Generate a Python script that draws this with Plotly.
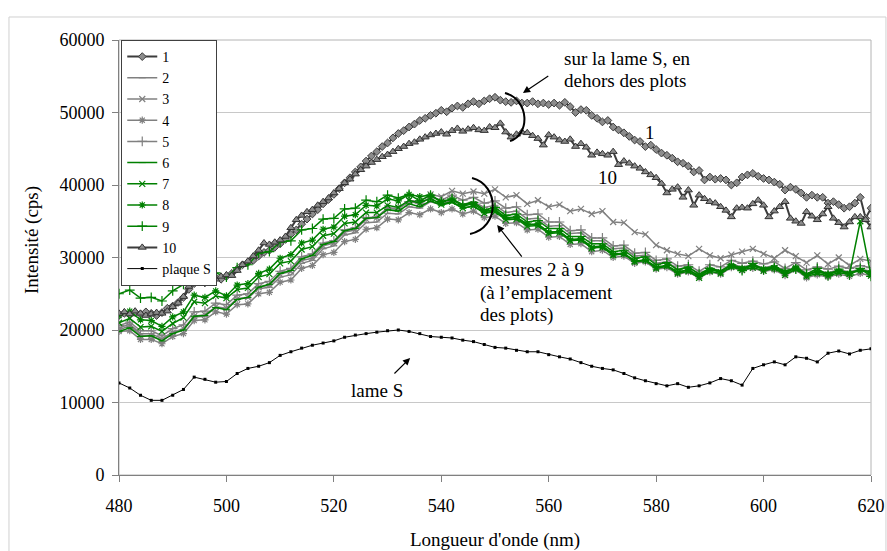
import plotly.graph_objects as go

# ---------------- data ----------------
# wavelengths (nm)
x_fine = list(range(480, 621, 1))   # 1 nm step, series 1 and 10
x_coarse = list(range(480, 621, 2)) # 2 nm step, series 2-9 and plaque S

s1 = [22000, 22300, 22100, 22400, 22200, 22500, 22300, 22000, 22400, 23000,
      23300, 23800, 24500, 25600, 26400, 26800, 26500, 26900, 27200, 27000,
      27400, 27800, 28400, 29000, 29300, 29600, 30200, 30700, 31000, 31400,
      31900, 32500, 33200, 33800, 34600, 35300, 36000, 36600, 37400, 38000,
      38700, 39500, 40300, 41000, 41800, 42500, 43300, 44000, 44600, 45300,
      45800, 46500, 47100, 47500, 48000, 48400, 48900, 49200, 49600, 49900,
      50300, 50100, 50600, 50900, 50700, 51200, 51500, 51200, 51600, 51900,
      52100, 51700, 51500, 51400, 51600, 51300, 51300, 51500, 51200, 51300,
      51100, 51300, 51000, 51400, 50800, 50000, 50400, 50300, 49600, 49200,
      48700, 48900, 48000, 47600, 47200, 46700, 46200, 46000, 45300, 45500,
      44900, 44400, 44100, 43700, 43200, 43000, 42600, 41800, 42000, 40700,
      41100, 40800, 40900, 40700, 40000, 40300, 41100, 41400, 41600, 41200,
      40900, 40700, 40400, 40100, 39300, 39700, 39400, 38900, 38300, 38600,
      38300, 38300, 37500, 37700, 37300, 36800, 37000, 37500, 38300, 35400,
      36800]

s10 = [22300, 22500, 22200, 22600, 22300, 22000, 22200, 22400, 22300, 22600,
       23200, 23700, 24600, 26000, 26900, 27100, 26800, 27200, 27000, 27400,
       27600, 27500, 28200, 29000, 29500, 30200, 31000, 32000, 31800, 32100,
       32400, 32900, 34100, 35200, 35800, 36300, 36600, 37200, 37700, 38200,
       38900, 39500, 40300, 40800, 41500, 42100, 42600, 43100, 43500, 43900,
       44200, 44600, 45000, 45300, 45700, 45900, 46300, 46600, 46900, 47100,
       47300, 47000, 47500, 47800, 47400, 47700, 47900, 47600, 47500, 48000,
       47900, 48500, 47300, 46600, 47000, 47300, 47200, 46800, 46400, 45500,
       46900, 46600, 46200, 46000, 46300, 45300, 45700, 45200, 44100, 44500,
       44300, 44100, 44600, 42800, 43300, 43000, 42600, 42300, 41800, 41400,
       41000, 40200, 38900, 39400, 39700, 38300, 39300, 37200, 38600, 38100,
       37700, 37500, 37000, 36500, 35600, 36800, 36900, 36800, 37400, 37900,
       37200, 35600, 36400, 37000, 37700, 35400, 35000, 34700, 36300, 35700,
       35200, 36000, 37000, 35400, 34800, 34200, 34900, 35600, 35600, 35200,
       34200]

s2 = [20300, 20800, 19500, 19500, 18800, 19700, 20100, 21800, 21900, 23100,
      22900, 24300, 24400, 25700, 25900, 27300, 27600, 29200, 29600, 31200,
      31600, 33100, 33400, 34800, 34900, 36100, 36000, 37000, 36800, 37700,
      37300, 38000, 37300, 37700, 36900, 37200, 36200, 36400, 35300, 35400,
      34300, 34400, 33300, 33400, 32300, 32300, 31200, 31300, 30200, 30300,
      29200, 29400, 28400, 28600, 27700, 28500, 28200, 29100, 28700, 29000,
      28600, 28900, 28000, 28800, 27800, 28200, 27900, 28300, 28000, 28400,
      28100]

s3 = [20000, 20600, 19200, 19200, 18600, 19600, 20200, 21900, 22100, 23200,
      23000, 24300, 24500, 25900, 26200, 27700, 28100, 29600, 29900, 31600,
      32000, 33500, 33800, 35300, 35500, 36800, 36800, 37900, 37700, 38700,
      38400, 39200, 38800, 39100, 38800, 39400, 38300, 38600, 37400, 37900,
      37000, 37300, 36400, 36700, 36000, 36400, 34900, 34800, 33500, 33200,
      31700, 31000, 30500, 30200, 31200, 30300, 29900, 30400, 30800, 31200,
      30500, 29900, 31000, 30200, 29300, 30300, 29100, 30000, 28900, 29800,
      29500]

s4 = [19800, 19900, 18700, 18700, 18100, 19100, 19500, 21300, 21400, 22500,
      22200, 23500, 23600, 25000, 25200, 26600, 26900, 28500, 28900, 30400,
      30700, 32200, 32500, 33900, 34100, 35300, 35200, 36200, 35900, 36700,
      36200, 36700, 36000, 36400, 35500, 35700, 34700, 34800, 33800, 33900,
      32800, 32900, 31800, 31900, 30800, 31000, 30000, 30200, 29200, 29400,
      28400, 28600, 27700, 28000, 27200, 28000, 27700, 28600, 28200, 28500,
      28100, 28300, 27500, 28300, 27200, 27600, 27300, 27700, 27400, 27800,
      27500]

s5 = [20600, 21100, 19900, 19900, 19200, 20200, 20700, 22500, 22600, 23700,
      23500, 24800, 25000, 26400, 26700, 28100, 28500, 30100, 30500, 32000,
      32300, 33800, 34100, 35500, 35600, 36800, 36700, 37700, 37500, 38300,
      37900, 38600, 37900, 38300, 37500, 37800, 36800, 37000, 35900, 36000,
      34900, 34900, 33700, 33800, 32700, 32700, 31600, 31700, 30600, 30700,
      29600, 29800, 28800, 29000, 28100, 29000, 28700, 29600, 29200, 29500,
      29100, 29400, 28500, 29300, 28300, 28700, 28400, 28800, 28500, 28900,
      28600]

s6 = [19800, 20300, 19100, 19200, 18500, 19500, 20000, 21900, 22000, 23100,
      22800, 24200, 24500, 25900, 26300, 27800, 28200, 29800, 30300, 31800,
      32200, 33700, 34000, 35400, 35500, 36600, 36400, 37400, 37000, 37800,
      37200, 37600, 36800, 37100, 36200, 36400, 35400, 35500, 34500, 34600,
      33500, 33600, 32500, 32600, 31500, 31600, 30500, 30600, 29500, 29700,
      28700, 28900, 28000, 28300, 27500, 28400, 28100, 29000, 28600, 28900,
      28500, 28800, 27900, 28700, 27700, 28100, 27800, 28200, 27900, 28300,
      28000]

s7 = [21000, 21600, 20400, 20500, 19800, 20900, 21700, 23900, 23700, 24700,
      24400, 25600, 25800, 27300, 27700, 29200, 29500, 31100, 31500, 33000,
      33300, 34700, 34900, 36200, 36200, 37200, 36900, 37900, 37500, 38200,
      37300, 37700, 36800, 37100, 36100, 36300, 35200, 35300, 34300, 34400,
      33300, 33400, 32300, 32400, 31300, 31400, 30300, 30500, 29400, 29600,
      28500, 28800, 27800, 28100, 27200, 28100, 27800, 28700, 28300, 28600,
      28200, 28500, 27600, 28400, 27400, 27800, 27500, 27900, 27700, 35000,
      27500]

s8 = [22000, 22600, 21400, 21300, 20500, 21800, 22500, 24800, 24500, 25400,
      24700, 26200, 26400, 27800, 28400, 29900, 30400, 32000, 32400, 33900,
      34200, 35700, 35900, 37200, 37100, 38100, 37800, 38700, 38400, 38600,
      37700, 38000, 37100, 37400, 36400, 36600, 35500, 35600, 34600, 34600,
      33500, 33600, 32400, 32500, 31300, 31500, 30400, 30500, 29500, 29600,
      28600, 28900, 27900, 28300, 27400, 28300, 28000, 28900, 28500, 28800,
      28400, 28600, 27800, 28600, 27600, 28000, 27700, 28100, 27800, 28200,
      27900]

s9 = [25000, 25500, 24400, 24500, 24000, 25400, 26300, 28400, 27600, 27900,
      27300, 28600, 29000, 30600, 30800, 32100, 32300, 33800, 34000, 35300,
      35400, 36700, 36800, 37900, 37700, 38600, 38200, 38700, 37800, 38600,
      37700, 38100, 37300, 37600, 36600, 36900, 35800, 36000, 34900, 35100,
      34000, 34000, 32900, 32900, 31900, 31900, 30800, 31000, 29900, 30100,
      29000, 29300, 28300, 28700, 27700, 28500, 28100, 29000, 28200, 29200,
      28300, 28600, 28200, 28400, 27700, 28500, 27500, 28400, 27600, 28500,
      27400]

plaque_s = [12700, 12000, 11000, 10300, 10300, 11000, 11800, 13500, 13200, 12800,
            12900, 14000, 14700, 15000, 15500, 16500, 17000, 17500, 17900, 18200,
            18500, 19000, 19300, 19500, 19700, 19900, 20000, 19800, 19500, 19100,
            19000, 18900, 18600, 18400, 18000, 17600, 17500, 17200, 17000, 17000,
            16600, 16300, 16000, 15500, 15000, 14700, 14500, 14000, 13400, 13000,
            12600, 12300, 12600, 12100, 12300, 12700, 13300, 13000, 12400, 14700,
            15200, 15600, 15200, 16300, 16100, 15600, 16800, 17100, 16700, 17200,
            17400]

names = ["1", "2", "3", "4", "5", "6", "7", "8", "9", "10", "plaque S"]
x_ticks = [480, 500, 520, 540, 560, 580, 600, 620]
y_ticks = [0, 10000, 20000, 30000, 40000, 50000, 60000]

for arr, ref in [(s1, x_fine), (s10, x_fine)]:
    assert len(arr) == len(ref), len(arr)
for arr in [s2, s3, s4, s5, s6, s7, s8, s9, plaque_s]:
    assert len(arr) == len(x_coarse), len(arr)

# ---------------- styles ----------------
FONT = "Liberation Serif"
GRAY = "#808080"
GREEN = "#008000"
DARK = "#3c3c3c"

fig = go.Figure()

def add(x, y, name, color, width, symbol, msize, mfill=None, mline=None, mlw=1):
    marker = dict(symbol=symbol, size=msize,
                  color=mfill if mfill else color,
                  line=dict(color=mline if mline else color, width=mlw))
    fig.add_trace(go.Scatter(x=x, y=y, name=name, mode="lines+markers",
                             line=dict(color=color, width=width),
                             marker=marker))

add(x_fine, s1, names[0], DARK, 2, "diamond", 6, "#8c8c8c", DARK, 1)
add(x_coarse, s2, names[1], GRAY, 1.5, "line-ew", 5, None, GRAY, 1)
add(x_coarse, s3, names[2], GRAY, 1.5, "x-thin", 6, None, GRAY, 1.2)
add(x_coarse, s4, names[3], GRAY, 1.5, "asterisk", 6, None, GRAY, 1.2)
add(x_coarse, s5, names[4], GRAY, 1.5, "cross-thin", 7, None, GRAY, 1.2)
add(x_coarse, s6, names[5], GREEN, 1.5, "line-ew", 5, None, GREEN, 1)
add(x_coarse, s7, names[6], GREEN, 1.5, "x-thin", 6, None, GREEN, 1.2)
add(x_coarse, s8, names[7], GREEN, 1.5, "asterisk", 6, None, GREEN, 1.2)
add(x_coarse, s9, names[8], GREEN, 1.5, "cross-thin", 7, None, GREEN, 1.2)
add(x_fine, s10, names[9], DARK, 2, "triangle-up", 7, "#8c8c8c", "#333333", 1)
add(x_coarse, plaque_s, names[10], "#000000", 1, "square", 3, "#000000", "#000000", 0)

txt = dict(family=FONT, size=19, color="black")
annotations = [
    dict(x=562.5, y=57500, text="sur la lame S, en", xanchor="left", yanchor="middle",
         showarrow=False, font=txt),
    dict(x=562.5, y=54350, text="dehors des plots", xanchor="left", yanchor="middle",
         showarrow=False, font=txt),
    dict(x=555.2, y=52690, ax=560.2, ay=55170, axref="x", ayref="y", text="",
         showarrow=True, arrowhead=2, arrowsize=1.2, arrowwidth=1.2, arrowcolor="black"),
    dict(x=578.9, y=47300, text="1", showarrow=False, font=txt),
    dict(x=571.0, y=41100, text="10", showarrow=False, font=txt),
    dict(x=546.8, y=28280, text="mesures 2 à 9", xanchor="left", yanchor="middle",
         showarrow=False, font=txt),
    dict(x=546.8, y=25100, text="(à l’emplacement", xanchor="left", yanchor="middle",
         showarrow=False, font=txt),
    dict(x=546.8, y=22070, text="des plots)", xanchor="left", yanchor="middle",
         showarrow=False, font=txt),
    dict(x=550.4, y=34480, ax=555.2, ay=29930, axref="x", ayref="y", text="",
         showarrow=True, arrowhead=2, arrowsize=1.2, arrowwidth=1.2, arrowcolor="black"),
    dict(x=528.0, y=11720, text="lame S", showarrow=False, font=txt),
    dict(x=534.2, y=16140, ax=531.0, ay=13790, axref="x", ayref="y", text="",
         showarrow=True, arrowhead=2, arrowsize=1.2, arrowwidth=1.2, arrowcolor="black"),
    # axis titles
    dict(x=0.5, y=-0.149, xref="paper", yref="paper", text="Longueur d'onde (nm)",
         showarrow=False, font=txt, xanchor="center", yanchor="middle"),
    dict(x=-0.1157, y=0.54, xref="paper", yref="paper", text="Intensité (cps)",
         showarrow=False, font=txt, textangle=-90, xanchor="center", yanchor="middle"),
]

shapes = [
    # outer chart border
    dict(type="rect", xref="paper", yref="paper", x0=-0.1463, x1=1.0199, y0=-0.19, y1=1.0529,
         line=dict(color="#d0d0d0", width=1), layer="below"),
    # plot-area border (top / right)
    dict(type="rect", xref="paper", yref="paper", x0=0, x1=1, y0=0, y1=1,
         line=dict(color="#b4b4b4", width=1), layer="below"),
    # ellipse arcs
    dict(type="path", xref="x", yref="y",
         path="M 551.86,52690 C 556.52,51724 556.52,46897 552.79,46069",
         line=dict(color="black", width=2)),
    dict(type="path", xref="x", yref="y",
         path="M 545.72,40966 C 550.93,40000 550.93,34069 545.35,33241",
         line=dict(color="black", width=2)),
]

fig.update_layout(
    width=887, height=551,
    margin=dict(l=119, r=16, t=40, b=76, autoexpand=False),
    paper_bgcolor="white", plot_bgcolor="white",
    font=dict(family=FONT, size=18, color="black"),
    showlegend=True,
    legend=dict(x=0.003, y=1.0, xanchor="left", yanchor="top",
                bordercolor="#404040", borderwidth=1, bgcolor="white",
                font=dict(family=FONT, size=14, color="black"),
                tracegroupgap=0, itemwidth=30),
    annotations=annotations,
    shapes=shapes,
)
fig.update_xaxes(range=[480, 620], tickvals=x_ticks, showgrid=False, zeroline=False,
                 automargin=False,
                 showline=True, linecolor=GRAY, linewidth=1, ticks="outside",
                 ticklen=6, tickcolor=GRAY, ticklabelstandoff=8,
                 tickfont=dict(family=FONT, size=18, color="black"))
fig.update_yaxes(range=[0, 60000], tickvals=y_ticks, tickformat="d", showgrid=True,
                 automargin=False,
                 gridcolor="#c8c8c8", gridwidth=1, zeroline=False,
                 showline=True, linecolor=GRAY, linewidth=1, ticks="outside",
                 ticklen=6, tickcolor=GRAY, ticklabelstandoff=4,
                 tickfont=dict(family=FONT, size=18, color="black"))

fig.write_html(
    "out.html",
    config={"displayModeBar": False},
    post_script=("document.documentElement.style.overflow='hidden';"
                 "document.body.style.overflow='hidden';"
                 "document.body.style.margin='0';"),
)
